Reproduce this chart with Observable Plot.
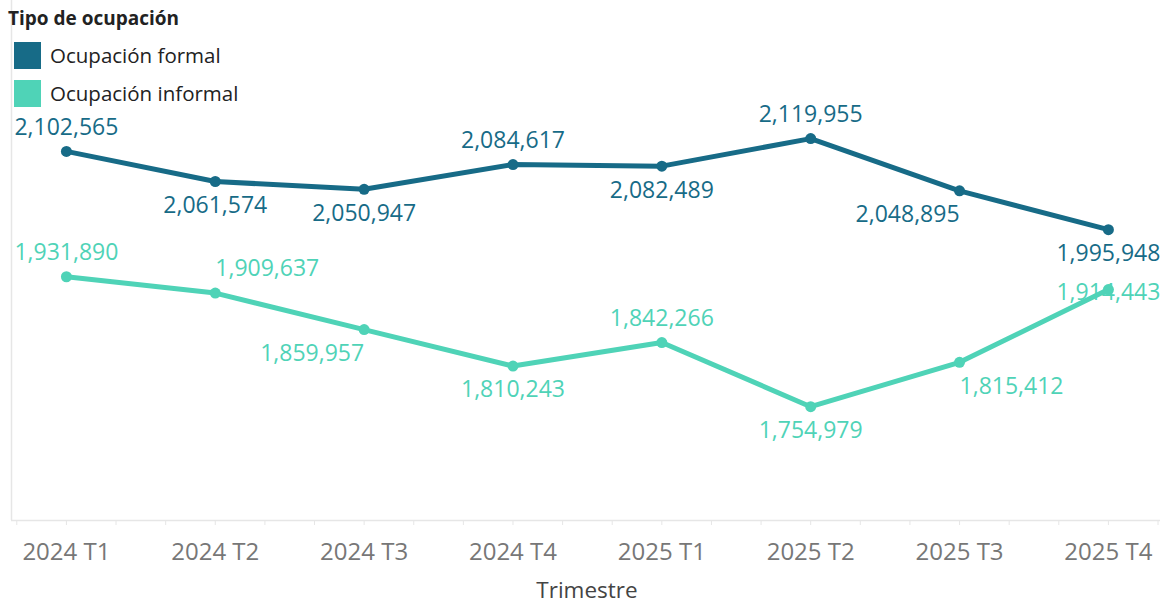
<!DOCTYPE html>
<html><head><meta charset="utf-8">
<script src="https://cdn.jsdelivr.net/npm/d3@7"></script>
<script src="https://cdn.jsdelivr.net/npm/@observablehq/plot@0.6"></script>
<style>
body{margin:0;background:#fff;font-family:"Open Sans",sans-serif;}
#wrap{position:relative;width:1167px;height:605px;overflow:hidden;}
#legend{position:absolute;left:8px;top:4px;color:#222;}
#legend .title{font-weight:700;font-size:19px;line-height:28px;color:#222;margin-bottom:4px;}
#legend .item{display:flex;align-items:center;height:38px;font-size:20.5px;margin-left:6px;}
#legend .sw{width:27px;height:27px;margin-right:9px;}
#xtitle{position:absolute;left:0;width:1174px;top:579px;line-height:22px;text-align:center;font-size:22.5px;color:#444;}
#chart{position:absolute;left:0;top:0;}
</style></head><body>
<div id="wrap"><div id="chart"></div><div id="legend"></div><div id="xtitle">Trimestre</div></div>
<script>
const quarters = ["2024 T1","2024 T2","2024 T3","2024 T4","2025 T1","2025 T2","2025 T3","2025 T4"];
const seriesNames = ["Ocupación formal","Ocupación informal"];
const formal = [2102565,2061574,2050947,2084617,2082489,2119955,2048895,1995948];
const informal = [1931890,1909637,1859957,1810243,1842266,1754979,1815412,1914443];
// label placement relative to the point: vertical side and horizontal anchor
const formalLabelSide = ["above","below","below","above","below","above","below","below"];
const formalLabelAnchor = ["middle","middle","middle","middle","middle","middle","end","middle"];
const informalLabelSide = ["above","above","below","below","above","below","below","center"];
const informalLabelAnchor = ["middle","start","end","middle","middle","middle","start","middle"];
const colors = ["#176b87","#4fd3b7"];

const rows = [];
quarters.forEach((q,i)=>{
  rows.push({i, q, value: formal[i], series: seriesNames[0], side: formalLabelSide[i], anchor: formalLabelAnchor[i]});
  rows.push({i, q, value: informal[i], series: seriesNames[1], side: informalLabelSide[i], anchor: informalLabelAnchor[i]});
});

const xDomain = [-0.369, 7.35];
const yDomain = [1600000, 2308000];
const fmt = d3.format(",");
const thirds = d3.range(-1, 23).map(k => k/3);

const textMarks = [];
for (const side of ["above","below","center"]) {
  for (const anchor of ["start","middle","end"]) {
    textMarks.push(Plot.text(rows, {
      filter: d => d.side === side && d.anchor === anchor,
      x: "i", y: "value", text: d => fmt(d.value), fill: "series",
      fontSize: 23, fontFamily: "Open Sans", textAnchor: anchor,
      dy: side === "above" ? -24 : side === "below" ? 24 : 3
    }));
  }
}

const chart = Plot.plot({
  width: 1167, height: 605,
  marginLeft: 11, marginRight: 7, marginTop: 0, marginBottom: 85,
  style: {background: "transparent", fontFamily: "Open Sans"},
  x: {type: "linear", domain: xDomain, axis: null},
  y: {domain: yDomain, axis: null},
  color: {domain: seriesNames, range: colors},
  marks: [
    Plot.ruleX([xDomain[0]], {stroke: "#e6e6e6", strokeWidth: 1.5}),
    Plot.ruleY([yDomain[0]], {stroke: "#e6e6e6", strokeWidth: 1.5}),
    Plot.axisX({ticks: thirds.filter(t => t >= xDomain[0] && t <= xDomain[1]), tickSize: 5, stroke: "#e6e6e6", tickFormat: () => "", label: null}),
    Plot.axisX({ticks: d3.range(quarters.length), tickFormat: i => quarters[i], tickSize: 0, tickPadding: 22, fontSize: 24, fill: "#777", label: null}),
    Plot.line(rows, {x: "i", y: "value", z: "series", stroke: "series", strokeWidth: 5, curve: "linear"}),
    Plot.dot(rows, {x: "i", y: "value", fill: "series", r: 5.5}),
    ...textMarks
  ]
});
document.getElementById("chart").append(chart);

const legend = document.getElementById("legend");
legend.innerHTML = `<div class="title">Tipo de ocupación</div>` +
  seriesNames.map((s,k) => `<div class="item"><div class="sw" style="background:${colors[k]}"></div>${s}</div>`).join("");
</script>
</body></html>
